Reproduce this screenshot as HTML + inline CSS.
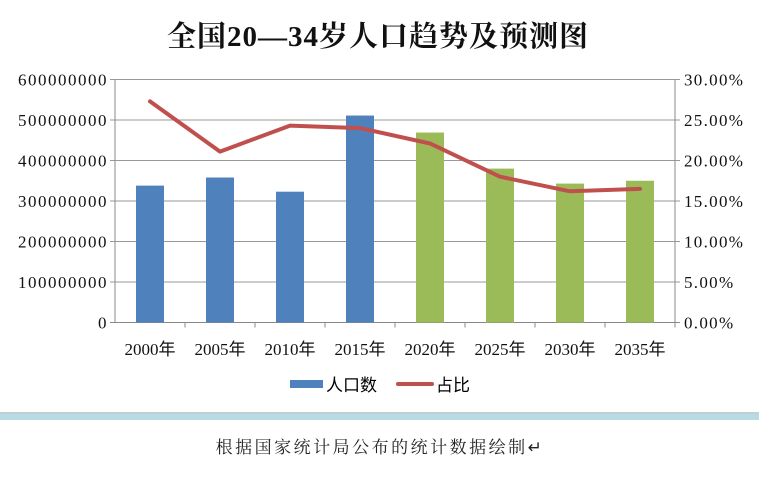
<!DOCTYPE html>
<html><head><meta charset="utf-8"><style>
body{margin:0;background:#fff;width:759px;height:473px;overflow:hidden;font-family:"Liberation Serif","Noto Serif CJK SC",serif}
</style></head><body>
<svg id="c" width="759" height="473" xmlns="http://www.w3.org/2000/svg">
<text x="378" y="46" text-anchor="middle" font-size="29" font-weight="bold" letter-spacing="1" font-family="Liberation Serif, Noto Serif CJK SC, serif" fill="#111">全国20—34岁人口趋势及预测图</text>
<g id="grid"></g><g id="bars"></g><g id="line"></g><g id="axes"></g>
<g>
<rect x="290" y="380" width="33" height="8" fill="#4f81bd"/>
<text x="326" y="391" font-size="17" font-family="Liberation Sans, Noto Sans CJK SC, sans-serif">人口数</text>
<line x1="398" y1="384" x2="432" y2="384" stroke="#c0504d" stroke-width="4" stroke-linecap="round"/>
<text x="436" y="391" font-size="17" font-family="Liberation Sans, Noto Sans CJK SC, sans-serif">占比</text>
</g>
<line x1="0" y1="413" x2="759" y2="413" stroke="#7fa3ad" stroke-width="1"/>
<rect x="0" y="414" width="759" height="6" fill="#b7dae3"/>
<text x="380" y="453" text-anchor="middle" font-size="17" letter-spacing="2.5" font-family="Noto Serif CJK SC, serif" fill="#222">根据国家统计局公布的统计数据绘制↵</text>
</svg>
<script>
const categories=["2000年","2005年","2010年","2015年","2020年","2025年","2030年","2035年"];
const population=[338000000,358000000,323000000,511000000,469000000,380000000,343000000,350000000];
const share=[27.3,21.1,24.3,24.0,22.1,18.0,16.2,16.5];
const isForecast=[false,false,false,false,true,true,true,true];
const leftTicks=[0,100000000,200000000,300000000,400000000,500000000,600000000];
const rightTicks=["0.00%","5.00%","10.00%","15.00%","20.00%","25.00%","30.00%"];
const NS="http://www.w3.org/2000/svg";
const L=115,R=675,T=79.5,B=322.5;
const yL=v=>B-(v/600000000)*(B-T);
const yR=v=>B-(v/30)*(B-T);
const bw=(R-L)/categories.length;
const xC=i=>L+bw*(i+0.5);
function mk(t,p,a){const e=document.createElementNS(NS,t);for(const k in a)e.setAttribute(k,a[k]);p.appendChild(e);return e;}
const grid=document.getElementById('grid'),bars=document.getElementById('bars'),line=document.getElementById('line'),axes=document.getElementById('axes');
const sans="Liberation Serif, serif";
leftTicks.forEach((v,i)=>{const y=yL(v);
 const g=mk('line',grid,{x1:L-5,x2:R+5,y1:y,y2:y,stroke:i===0?'#888':'#999','stroke-width':1});
 
 
 const t=mk('text',axes,{x:L-7,y:y+6,'text-anchor':'end','font-size':17,'letter-spacing':1.5,'font-family':sans,fill:'#111'});t.textContent=v;
 
 
 const t2=mk('text',axes,{x:R+9,y:y+6,'font-size':17,'letter-spacing':1.3,'font-family':sans,fill:'#111'});t2.textContent=rightTicks[i];
 
 
});
const la=mk('line',axes,{x1:L,x2:L,y1:T,y2:B,stroke:'#888'});


const ra=mk('line',axes,{x1:R,x2:R,y1:T,y2:B,stroke:'#888'});


categories.forEach((c,i)=>{
 const y=yL(population[i]);
 const b=mk('rect',bars,{x:xC(i)-14,y:y,width:28,height:B-y,fill:isForecast[i]?'#9bbb59':'#4f81bd'});
 
 
 const tk=mk('line',axes,{x1:L+bw*(i+1),x2:L+bw*(i+1),y1:B,y2:B+5,stroke:'#888'});
 
 
 const t=mk('text',axes,{x:xC(i),y:355,'text-anchor':'middle','font-size':17,'font-family':'Liberation Serif, Noto Sans CJK SC, serif',fill:'#111'});t.textContent=c;
 
 
});
const pts=share.map((v,i)=>xC(i)+','+yR(v)).join(' ');
const pl=mk('polyline',line,{points:pts,fill:'none',stroke:'#c0504d','stroke-width':4,'stroke-linejoin':'round','stroke-linecap':'round'});


</script>
</body></html>
